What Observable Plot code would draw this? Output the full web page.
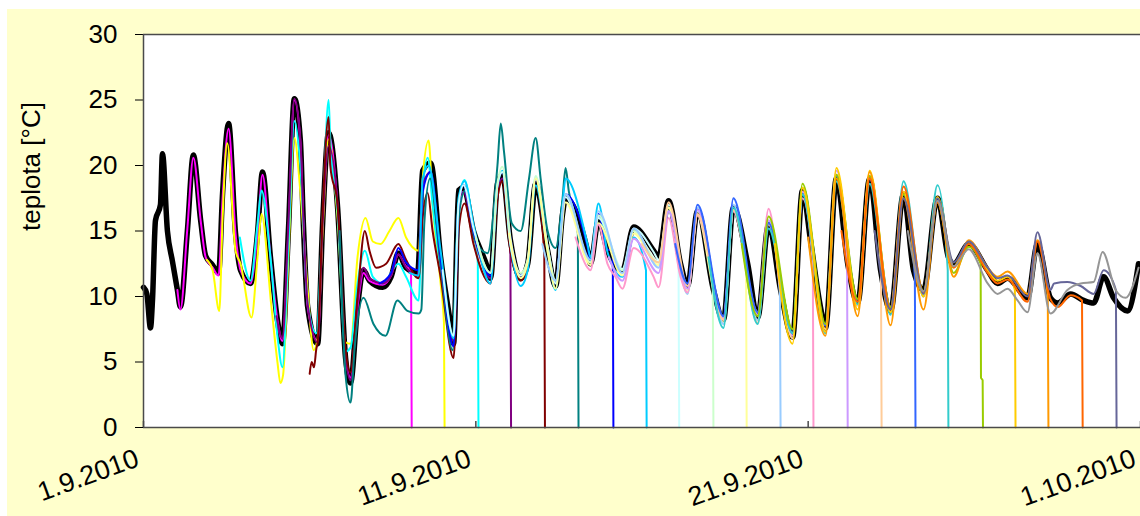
<!DOCTYPE html>
<html><head><meta charset="utf-8">
<script src="https://cdn.jsdelivr.net/npm/d3@7"></script>
<script src="https://cdn.jsdelivr.net/npm/@observablehq/plot@0.6"></script>
<style>
html,body{margin:0;padding:0;background:#fff;overflow:hidden;width:1140px;height:516px}
#chart{position:absolute;left:7px;top:9px;width:1133px;height:507px;background:#ffffcc}
</style></head>
<body><div id="chart"></div>
<script>
// x = days since 1.9.2010 00:00, y = temperature [°C]
const xTickDays = [0, 10, 20, 30];
const xTickLabels = ["1.9.2010", "11.9.2010", "21.9.2010", "1.10.2010"];
const yTicks = [0, 5, 10, 15, 20, 25, 30];
const yLabel = "teplota [°C]";

// reference logger (black, whole month)
const reference = [[0.00,10.7],[0.10,10.2],[0.21,7.6],[0.27,9.7],[0.36,15.8],[0.51,17.0],[0.57,20.9],[0.72,15.0],[0.87,12.7],[1.02,10.5],[1.11,9.2],[1.32,15.0],[1.50,20.8],[1.72,15.8],[1.87,13.1],[2.08,12.4],[2.26,11.8],[2.38,17.9],[2.56,23.2],[2.77,14.8],[2.92,12.0],[3.22,11.0],[3.43,14.8],[3.58,19.5],[3.82,13.0],[4.03,8.2],[4.18,6.4],[4.36,15.0],[4.54,25.1],[4.72,21.9],[4.81,15.6],[4.94,9.2],[5.24,6.4],[5.39,15.6],[5.57,22.5],[5.84,16.8],[6.08,5.3],[6.23,3.4],[6.44,9.2],[6.62,12.0],[6.80,11.2],[7.20,10.7],[7.45,11.5],[7.67,13.3],[7.90,12.2],[8.25,11.8],[8.40,19.6],[8.64,20.2],[8.94,13.0],[9.24,7.9],[9.33,6.4],[9.48,18.1],[9.63,18.3],[9.93,15.0],[10.35,12.2],[10.44,11.4],[10.65,18.6],[10.80,19.3],[11.04,14.3],[11.35,11.4],[11.56,12.5],[11.80,18.6],[12.16,13.5],[12.40,10.8],[12.61,16.3],[12.70,17.5],[13.36,13.5],[13.45,12.5],[13.69,15.8],[13.96,13.5],[14.41,12.0],[14.75,15.3],[15.35,13.5],[15.50,13.0],[15.80,17.3],[16.16,12.5],[16.37,10.8],[16.67,16.5],[17.15,10.5],[17.45,8.2],[17.75,16.8],[18.18,12.5],[18.48,8.4],[18.81,15.5],[19.17,10.5],[19.53,6.9],[19.83,18.1],[20.07,14.3],[20.37,9.2],[20.52,7.6],[20.85,19.0],[21.19,12.5],[21.49,9.5],[21.85,19.0],[22.18,12.0],[22.48,8.9],[22.87,17.8],[23.17,12.0],[23.47,10.5],[23.89,17.5],[24.22,13.0],[24.38,12.5],[24.83,14.0],[25.40,12.0],[25.70,11.0],[26.00,11.4],[26.60,9.9],[26.90,14.0],[27.29,9.9],[27.51,9.5],[27.90,10.2],[28.29,9.7],[28.59,9.5],[28.89,11.5],[29.19,9.9],[29.61,8.9],[29.94,12.5]];

// individual loggers (each ends with a 0 reading)
const logger01 = [[1.02,10.5],[1.11,9.0],[1.32,15.2],[1.50,20.6],[1.72,15.8],[1.87,13.0],[2.08,12.2],[2.26,11.6],[2.38,17.5],[2.56,22.8],[2.77,14.8],[2.92,12.0],[3.22,11.0],[3.43,14.8],[3.58,19.3],[3.82,13.0],[4.03,8.2],[4.18,6.6],[4.36,15.0],[4.54,25.0],[4.72,21.8],[4.81,15.6],[4.94,9.2],[5.24,6.6],[5.39,15.6],[5.57,22.3],[5.84,16.8],[6.08,5.5],[6.23,3.8],[6.44,9.2],[6.62,11.8],[6.80,11.2],[7.20,10.9],[7.45,11.6],[7.67,13.2],[7.90,12.3],[8.05,12.0],[8.07,0]];
const logger02 = [[1.90,12.8],[2.08,12.0],[2.28,8.9],[2.38,16.0],[2.52,21.7],[2.77,13.5],[2.92,12.5],[3.25,8.4],[3.43,13.0],[3.55,16.3],[3.85,9.2],[4.03,5.0],[4.12,3.4],[4.20,4.0],[4.36,13.0],[4.54,22.1],[4.72,18.0],[4.94,10.5],[5.12,5.9],[5.24,6.8],[5.39,15.0],[5.57,22.0],[5.84,16.0],[6.08,6.5],[6.23,6.4],[6.44,13.0],[6.68,16.0],[6.90,14.2],[7.13,14.0],[7.40,15.0],[7.67,16.0],[7.90,14.5],[8.28,13.5],[8.40,19.0],[8.58,21.9],[8.70,17.0],[8.94,11.0],[9.04,8.0],[9.06,0]];
const logger03 = [[2.90,14.5],[3.22,11.2],[3.43,15.5],[3.55,18.1],[3.82,13.0],[4.03,7.0],[4.18,4.6],[4.36,14.0],[4.54,23.4],[4.72,20.0],[4.94,9.5],[5.20,7.2],[5.39,16.0],[5.57,25.0],[5.62,22.0],[5.84,16.5],[6.08,5.8],[6.23,6.1],[6.44,11.0],[6.66,13.5],[6.90,11.5],[7.20,11.0],[7.67,12.5],[7.90,11.5],[8.28,9.7],[8.40,18.0],[8.55,20.6],[8.70,17.0],[8.94,12.0],[9.30,6.9],[9.48,17.0],[9.66,18.9],[9.93,15.0],[10.06,12.5],[10.08,0]];
const logger04 = [[4.00,8.5],[4.18,6.8],[4.36,15.5],[4.54,25.1],[4.72,22.0],[4.81,16.0],[4.94,9.4],[5.24,6.5],[5.39,15.5],[5.57,21.5],[5.84,17.0],[6.08,5.6],[6.23,3.6],[6.44,9.5],[6.62,12.2],[6.80,11.4],[7.20,11.0],[7.45,11.6],[7.67,13.2],[7.90,12.2],[8.25,11.6],[8.40,18.5],[8.64,19.5],[8.94,12.5],[9.33,6.6],[9.48,17.0],[9.63,18.0],[9.93,14.8],[10.44,11.4],[10.65,18.0],[10.80,19.0],[11.04,13.2],[11.06,0]];
const logger05 = [[5.00,4.1],[5.06,5.0],[5.13,4.6],[5.20,6.0],[5.24,6.5],[5.39,16.5],[5.57,23.7],[5.62,20.0],[5.84,17.0],[6.08,6.0],[6.23,4.2],[6.44,10.0],[6.66,15.0],[6.80,13.5],[7.00,12.2],[7.30,12.5],[7.67,14.0],[7.90,12.8],[8.28,11.4],[8.40,16.0],[8.55,17.9],[8.70,15.0],[8.94,11.5],[9.33,5.3],[9.48,15.0],[9.66,17.1],[9.93,14.0],[10.44,11.0],[10.65,17.5],[10.80,18.8],[11.04,13.5],[11.35,11.2],[11.56,12.3],[11.80,18.4],[12.06,13.2],[12.08,0]];
const logger06 = [[5.90,15.0],[6.08,4.0],[6.23,1.9],[6.35,6.0],[6.62,9.9],[6.92,7.9],[7.28,7.0],[7.64,9.7],[7.94,8.9],[8.28,8.7],[8.36,9.0],[8.45,15.6],[8.62,19.0],[8.94,12.5],[9.30,5.9],[9.48,16.0],[9.68,18.1],[9.98,14.3],[10.35,13.3],[10.65,20.0],[10.75,23.2],[10.85,21.0],[11.08,15.6],[11.35,15.0],[11.60,19.0],[11.80,22.1],[11.95,19.0],[12.16,15.0],[12.40,13.7],[12.61,17.5],[12.70,19.8],[12.80,18.0],[13.07,14.8],[13.09,0]];
const logger07 = [[7.10,11.0],[7.45,11.8],[7.67,13.7],[7.90,12.6],[8.28,12.0],[8.40,18.0],[8.64,19.5],[8.94,13.0],[9.33,6.2],[9.48,17.0],[9.63,18.5],[9.93,15.0],[10.44,11.6],[10.65,18.5],[10.80,19.5],[11.04,14.5],[11.35,11.6],[11.56,12.6],[11.80,19.0],[12.16,13.8],[12.40,11.0],[12.61,16.5],[12.70,17.8],[13.36,13.8],[13.45,12.8],[13.69,16.3],[13.96,13.6],[14.12,13.5],[14.14,0]];
const logger08 = [[8.00,11.8],[8.28,11.6],[8.40,19.0],[8.58,20.0],[8.94,13.5],[9.33,6.8],[9.48,17.5],[9.66,18.8],[9.93,15.5],[10.44,11.0],[10.65,18.5],[10.80,19.6],[11.04,14.0],[11.35,10.8],[11.56,12.0],[11.80,18.5],[12.16,13.5],[12.40,10.5],[12.61,17.0],[12.70,19.0],[13.36,14.0],[13.45,13.0],[13.69,17.1],[13.96,13.4],[14.41,11.5],[14.75,14.5],[15.12,12.0],[15.14,0]];
const logger09 = [[9.00,12.0],[9.33,7.0],[9.48,17.0],[9.63,18.5],[9.93,15.2],[10.44,11.8],[10.65,18.5],[10.80,19.5],[11.04,14.0],[11.35,11.6],[11.56,12.8],[11.80,19.2],[12.16,13.8],[12.40,11.0],[12.70,17.6],[13.45,12.6],[13.69,16.0],[14.41,12.1],[14.75,15.2],[15.35,13.4],[15.50,12.8],[15.80,17.0],[16.10,12.0],[16.12,0]];
const logger10 = [[10.00,14.5],[10.44,11.8],[10.65,18.6],[10.80,19.9],[11.04,14.5],[11.35,11.8],[11.56,12.8],[11.80,19.2],[12.16,13.8],[12.40,11.2],[12.70,17.8],[13.45,12.6],[13.69,16.2],[14.41,12.0],[14.75,15.0],[15.50,12.6],[15.80,16.8],[16.37,10.2],[16.67,16.5],[17.13,10.5],[17.15,0]];
const logger11 = [[11.00,14.8],[11.35,11.4],[11.56,12.6],[11.80,19.0],[12.16,13.4],[12.40,10.6],[12.70,17.2],[13.45,12.4],[13.69,15.6],[14.41,11.6],[14.75,14.8],[15.50,12.4],[15.80,16.8],[16.37,10.5],[16.67,16.2],[17.15,10.5],[17.45,8.0],[17.75,16.6],[18.13,12.5],[18.15,0]];
const logger12 = [[12.00,14.0],[12.40,11.2],[12.70,17.8],[13.45,12.8],[13.69,16.5],[14.41,11.8],[14.75,15.2],[15.50,12.2],[15.80,16.5],[16.37,10.2],[16.67,16.8],[17.45,7.9],[17.75,17.0],[18.48,8.2],[18.81,15.8],[19.15,10.2],[19.17,0]];
const logger13 = [[13.00,14.5],[13.36,12.2],[13.45,12.0],[13.69,15.5],[13.96,12.5],[14.20,11.5],[14.41,10.6],[14.75,13.7],[15.35,11.5],[15.50,10.7],[15.80,16.0],[16.16,11.5],[16.37,10.3],[16.67,16.2],[17.45,8.3],[17.75,16.5],[18.48,8.8],[18.81,16.7],[19.17,10.5],[19.53,7.2],[19.83,17.5],[20.14,12.5],[20.16,0]];
const logger14 = [[14.00,13.0],[14.41,11.2],[14.75,14.4],[15.50,11.8],[15.80,16.5],[16.37,10.6],[16.67,16.6],[17.45,8.4],[17.75,16.6],[18.48,8.6],[18.81,15.8],[19.53,7.0],[19.83,18.0],[20.52,7.8],[20.85,19.6],[21.17,12.5],[21.19,0]];
const logger15 = [[15.00,14.0],[15.50,12.6],[15.80,17.2],[16.37,10.8],[16.67,16.3],[17.45,8.2],[17.75,16.6],[18.48,8.0],[18.81,15.5],[19.53,6.8],[19.83,18.3],[20.52,7.5],[20.85,19.3],[21.49,9.3],[21.85,19.2],[22.19,12.0],[22.21,0]];
const logger16 = [[16.00,14.0],[16.37,11.0],[16.67,17.0],[17.45,8.5],[17.75,17.5],[18.48,8.8],[18.81,15.6],[19.53,7.2],[19.83,17.8],[20.52,7.8],[20.85,19.2],[21.49,9.6],[21.85,19.0],[22.48,9.2],[22.87,17.8],[23.21,11.5],[23.23,0]];
const logger17 = [[17.00,13.0],[17.45,7.6],[17.75,16.8],[18.48,7.9],[18.81,15.2],[19.53,7.2],[19.83,17.8],[20.52,7.2],[20.85,18.8],[21.49,9.4],[21.85,18.6],[22.48,8.6],[22.87,18.8],[23.47,10.0],[23.89,18.5],[24.20,12.0],[24.22,0]];
const logger18 = [[18.00,14.0],[18.48,8.5],[18.81,16.1],[19.53,7.5],[19.83,18.6],[20.52,7.9],[20.85,19.3],[21.49,9.8],[21.85,19.2],[22.48,9.2],[22.87,17.8],[23.47,10.4],[23.89,17.2],[24.38,11.8],[24.83,13.8],[25.19,12.5],[25.20,3.8],[25.25,3.6],[25.26,0]];
const logger19 = [[19.00,14.0],[19.53,6.4],[19.83,18.3],[20.52,7.3],[20.85,19.8],[21.49,9.0],[21.85,19.6],[22.48,8.8],[22.87,18.0],[23.47,10.0],[23.89,17.6],[24.38,12.3],[24.83,14.2],[25.40,12.0],[25.70,11.2],[26.00,11.5],[26.22,10.5],[26.24,0]];
const logger20 = [[20.00,14.5],[20.52,7.0],[20.85,19.0],[21.49,8.5],[21.85,19.5],[22.48,7.8],[22.87,17.5],[23.47,9.0],[23.89,17.3],[24.38,11.5],[24.83,14.3],[25.40,12.2],[25.70,11.5],[26.00,11.9],[26.60,10.2],[26.90,14.3],[27.21,10.0],[27.23,0]];
const logger21 = [[21.00,15.0],[21.49,9.6],[21.85,19.0],[22.48,9.0],[22.87,18.4],[23.47,10.3],[23.89,17.2],[24.38,12.2],[24.83,14.0],[25.40,11.8],[25.70,11.0],[26.00,11.3],[26.60,9.6],[26.90,14.2],[27.29,9.8],[27.51,9.2],[27.90,10.1],[28.24,9.7],[28.26,0]];
const logger22 = [[22.00,15.0],[22.48,9.0],[22.87,17.5],[23.47,10.2],[23.89,17.5],[24.38,12.6],[24.83,14.2],[25.40,12.2],[25.70,11.4],[26.00,11.6],[26.60,10.0],[26.90,14.9],[27.29,10.5],[27.40,11.0],[27.80,11.1],[28.20,10.8],[28.59,10.2],[28.89,12.0],[29.26,10.5],[29.28,0]];
const logger23 = [[23.00,15.0],[23.47,10.4],[23.89,17.3],[24.38,12.3],[24.83,13.6],[25.40,11.0],[25.70,10.2],[26.00,10.6],[26.30,9.7],[26.60,8.8],[26.90,13.3],[27.29,8.7],[27.80,10.5],[28.20,11.0],[28.59,11.1],[28.86,13.4],[29.25,10.5],[29.55,9.9],[29.94,12.2]];

const loggerNames = ["L01","L02","L03","L04","L05","L06","L07","L08","L09","L10","L11","L12","L13","L14","L15","L16","L17","L18","L19","L20","L21","L22","L23"];
const loggerColors = ["#FF00FF","#FFFF00","#00FFFF","#800080","#800000","#008080","#0000FF","#00CCFF","#CCFFFF","#CCFFCC","#FFFF99","#99CCFF","#FF99CC","#CC99FF","#FFCC99","#3366FF","#33CCCC","#99CC00","#FFCC00","#FF9900","#FF6600","#666699","#969696"];
const loggerSeries = [logger01,logger02,logger03,logger04,logger05,logger06,logger07,logger08,logger09,logger10,logger11,logger12,logger13,logger14,logger15,logger16,logger17,logger18,logger19,logger20,logger21,logger22,logger23];

const refRows = reference.map(([day, temp]) => ({day, temp}));
const loggerRows = loggerSeries.flatMap((s, i) => s.map(([day, temp]) => ({logger: loggerNames[i], day, temp})));

const chart = Plot.plot({
  width: 1133, height: 507,
  marginLeft: 136, marginRight: 0, marginTop: 25, marginBottom: 89,
  style: {background: "transparent", fontFamily: "'Liberation Sans', Arial, sans-serif", fontSize: "26px", color: "#000"},
  x: {domain: [0, 30], axis: null},
  y: {domain: [0, 30], ticks: yTicks, tickSize: 8, tickPadding: 18, label: null, tickFormat: d => String(d)},
  color: {domain: loggerNames, range: loggerColors},
  marks: [
    Plot.frame({fill: "white", stroke: null}),
    Plot.line(refRows, {x: "day", y: "temp", stroke: "#000", strokeWidth: 5.5, strokeLinejoin: "round", curve: "monotone-x"}),
    Plot.line(loggerRows, {x: "day", y: "temp", z: "logger", stroke: "logger", strokeWidth: 2, strokeLinejoin: "round", curve: "monotone-x"}),
    Plot.ruleY([0, 30], {stroke: "#4a4a4a", strokeWidth: 1.5}),
    Plot.ruleX([0], {stroke: "#4a4a4a", strokeWidth: 1.5}),
    Plot.ruleX(xTickDays, {x: d => d, stroke: "#4a4a4a", strokeWidth: 1.5, insetTop: 387}),
    Plot.text(xTickDays, {x: d => d, text: (d, i) => xTickLabels[i], frameAnchor: "bottom", dx: -3, dy: 38, rotate: -20, textAnchor: "end", fontSize: 27, fill: "#000"}),
    Plot.text([yLabel], {frameAnchor: "left", text: d => d, dx: -112, rotate: -90, fontSize: 26, fill: "#000"})
  ]
});
document.getElementById("chart").appendChild(chart);
</script>
</body></html>
